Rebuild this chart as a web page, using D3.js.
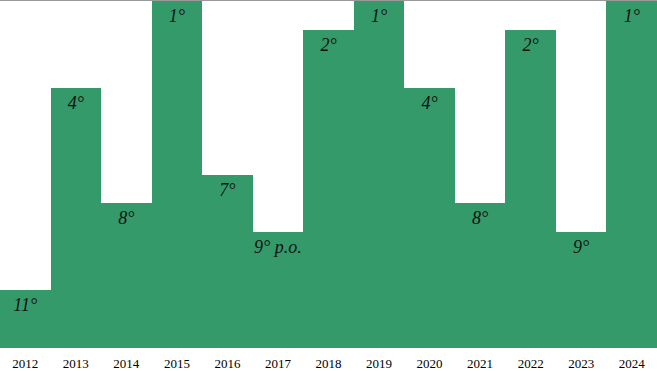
<!DOCTYPE html>
<html>
<head>
<meta charset="utf-8">
<script src="https://cdn.jsdelivr.net/npm/d3@7"></script>
<style>
  body { margin: 0; background: #fff; }
  .year { font-family: "Liberation Serif", serif; font-size: 13px; fill: #000; }
  .rank { font-family: "Liberation Serif", serif; font-style: italic; font-size: 18px; fill: #111; }
</style>
</head>
<body>
<script>
// data
var years = ["2012", "2013", "2014", "2015", "2016", "2017", "2018", "2019", "2020", "2021", "2022", "2023", "2024"];
var ranks = [11, 4, 8, 1, 7, 9, 2, 1, 4, 8, 2, 9, 1];
var rankLabels = ["11°", "4°", "8°", "1°", "7°", "9° p.o.", "2°", "1°", "4°", "8°", "2°", "9°", "1°"];

var width = 657,
    height = 371,
    plotBottom = 348;

var svg = d3.select("body")
    .append("svg")
        .attr("width", width)
        .attr("height", height);

var x = d3.scaleBand()
    .domain(years)
    .range([0, width])
    .padding(0);

// rank 1 is at the top, bottom of plot would be rank 13
var y = d3.scaleLinear()
    .domain([1, 13])
    .range([1, plotBottom]);

var data = years.map(function(d, i) {
    return {year: d, rank: ranks[i], label: rankLabels[i]};
});

// bars (rounded + crisp edges so neighbours don't show seams)
svg.append("g")
    .attr("shape-rendering", "crispEdges")
    .selectAll("rect")
    .data(data)
    .enter()
    .append("rect")
    .attr("x", function(d) { return Math.round(x(d.year)); })
    .attr("y", function(d) { return Math.round(y(d.rank)); })
    .attr("width", function(d) { return Math.round(x(d.year) + x.bandwidth()) - Math.round(x(d.year)); })
    .attr("height", function(d) { return plotBottom - Math.round(y(d.rank)); })
    .attr("fill", "#359a69");

// top border line
svg.append("line")
    .attr("x1", 0)
    .attr("x2", width)
    .attr("y1", 0.5)
    .attr("y2", 0.5)
    .attr("stroke", "#999")
    .attr("stroke-width", 1);

// rank labels
svg.append("g")
    .selectAll("text")
    .data(data)
    .enter()
    .append("text")
    .attr("class", "rank")
    .attr("text-anchor", "middle")
    .attr("x", function(d) { return x(d.year) + x.bandwidth() / 2; })
    .attr("y", function(d) { return y(d.rank) + 21; })
    .text(function(d) { return d.label; });

// year axis
var axis = svg.append("g")
    .attr("transform", "translate(0," + plotBottom + ")")
    .call(d3.axisBottom(x).tickSize(0).tickPadding(0));
axis.select(".domain").remove();
axis.selectAll("text")
    .attr("class", "year")
    .attr("dy", null)
    .attr("y", 20)
    .attr("font-family", null)
    .attr("font-size", null)
    .attr("fill", null);
</script>
</body>
</html>
